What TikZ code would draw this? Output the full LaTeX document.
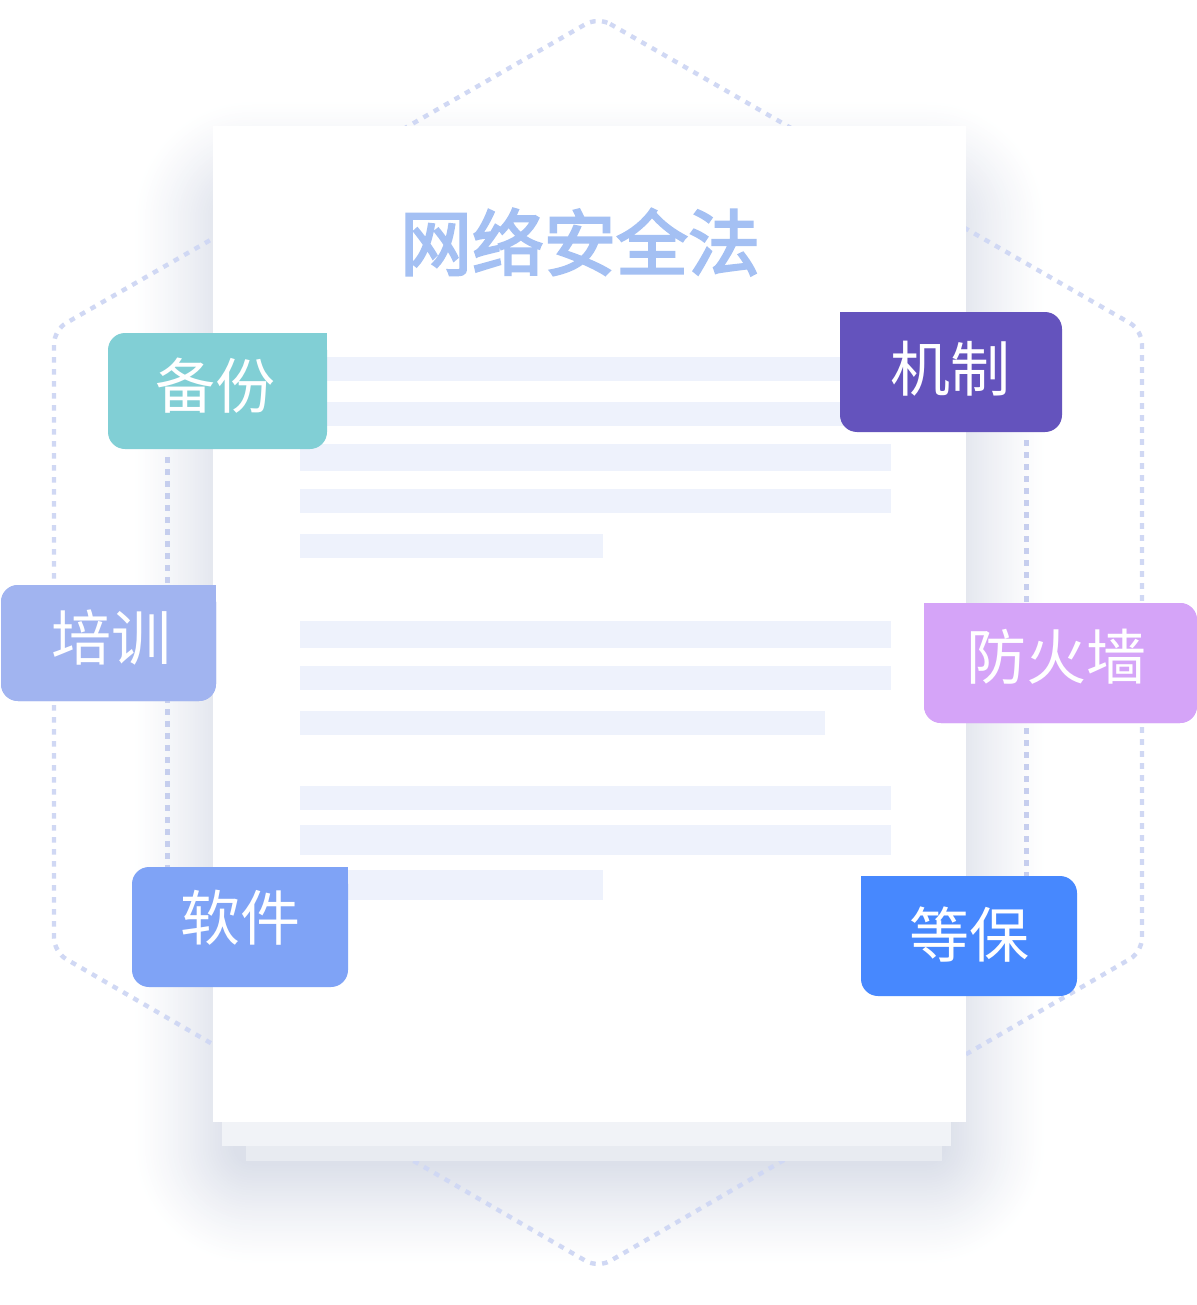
\documentclass[tikz,border=0pt]{standalone}
\usepackage{fontspec}
\newfontfamily\cjk{Noto Sans CJK SC}
\newfontfamily\cjkt{Noto Sans CJK SC}[FakeBold=3]
\usetikzlibrary{calc}
\definecolor{hexc}{HTML}{D0D8F4}
\definecolor{innerc}{HTML}{C6CEEE}
\definecolor{shadowc}{HTML}{DCE0EA}
\definecolor{rowc}{HTML}{EEF2FC}
\definecolor{titlec}{HTML}{A4C0F3}
\definecolor{layerb}{HTML}{F1F3F7}
\definecolor{layerc}{HTML}{E8EBF1}
\definecolor{cbeifen}{HTML}{81CFD5}
\definecolor{cpeixun}{HTML}{A1B4F0}
\definecolor{cruanjian}{HTML}{7FA3F6}
\definecolor{cjizhi}{HTML}{6453BD}
\definecolor{cfang}{HTML}{D5A4F8}
\definecolor{cdengbao}{HTML}{4788FE}
\begin{document}
\begin{tikzpicture}[x=0.5pt,y=-0.5pt,
  tagbox/.style={rectangle, rounded corners=8.5pt, inner sep=0pt, minimum height=59pt},
  tagtext/.style={font=\cjk\fontsize{30pt}{30pt}\selectfont, text=white, inner sep=0pt},
  hexline/.style={draw=hexc, line width=2.2pt, dash pattern=on 2.8pt off 3.2pt, rounded corners=7pt},
  innerline/.style={draw=innerc, line width=2.2pt, dash pattern=on 2.8pt off 3.2pt},
  rowbar/.style={fill=rowc}]
\useasboundingbox (0,0) rectangle (1197,1305);
\fill[white] (0,0) rectangle (1197,1305);
% soft shadow (solid graded layers, outermost first)
\foreach \i in {40,39,...,0}{
  \pgfmathsetmacro{\rr}{\i*1.25+10}
  \pgfmathsetmacro{\pp}{100*(1-\i/40)^1.2}
  \fill[shadowc!\pp!white, rounded corners=\rr pt] (233-\i*2.5, 200-\i*2.5) rectangle (946+\i*2.5, 1165+\i*2.5);
}
% outer dotted hexagon
\coordinate (hT) at (598,17);
\coordinate (hTR) at (1142,330);
\coordinate (hBR) at (1142,952);
\coordinate (hB) at (598,1268);
\coordinate (hBL) at (54,952);
\coordinate (hTL) at (54,330);
\draw[hexline] (hT) -- (hTR) -- (hBR) -- (hB) -- (hBL) -- (hTL) -- cycle;
% document stack
\fill[layerc] (246,1140) rectangle (942,1161);
\fill[layerb] (222,1115) rectangle (951,1146);
\fill[white] (213,126) rectangle (966,1122);
% text bars
\fill[rowbar] (300,357) rectangle (891,381);
\fill[rowbar] (300,402) rectangle (891,426);
\fill[rowbar] (300,444) rectangle (891,471);
\fill[rowbar] (300,489) rectangle (891,513);
\fill[rowbar] (300,534) rectangle (603,558);
\fill[rowbar] (300,621) rectangle (891,648);
\fill[rowbar] (300,666) rectangle (891,690);
\fill[rowbar] (300,711) rectangle (825,735);
\fill[rowbar] (300,786) rectangle (891,810);
\fill[rowbar] (300,825) rectangle (891,855);
\fill[rowbar] (300,870) rectangle (603,900);
% title
\node[font=\cjkt\fontsize{36pt}{36pt}\selectfont, text=titlec, inner sep=0pt] (title) at (580,242) {网络安全法};
% tag boxes
\node[tagbox, fill=cbeifen, minimum width=109.5pt, minimum height=58pt] (beifen) at (217.5,391) {};
\node[tagbox, fill=cpeixun, minimum width=107.5pt, minimum height=58pt] (peixun) at (108.5,643) {};
\node[tagbox, fill=cruanjian, minimum width=108pt, minimum height=60pt] (ruanjian) at (240,927) {};
\node[tagbox, fill=cjizhi, minimum width=111pt, minimum height=60pt] (jizhi) at (951,372) {};
\node[tagbox, fill=cfang, minimum width=136.5pt, minimum height=60pt] (fang) at (1060.5,663) {};
\node[tagbox, fill=cdengbao, minimum width=108pt, minimum height=60pt] (dengbao) at (969,936) {};
% inner dotted links
\draw[innerline] ([xshift=30pt,yshift=-4pt]beifen.south west) -- ([xshift=18pt]ruanjian.north west);
\draw[innerline] ([xshift=93.5pt,yshift=-4pt]jizhi.south west) -- ([xshift=83pt]dengbao.north west);
% redraw tags lying over the links
\node[tagbox, fill=cpeixun, minimum width=107.5pt, minimum height=58pt] (peixun2) at (108.5,643) {};
\node[tagbox, fill=cfang, minimum width=136.5pt, minimum height=60pt] (fang2) at (1060.5,663) {};
% sharp corners
\fill[cbeifen] (beifen.north east) rectangle ++(-20,20);
\fill[cpeixun] (peixun.north east) rectangle ++(-20,20);
\fill[cruanjian] (ruanjian.north east) rectangle ++(-20,20);
\fill[cjizhi] (jizhi.north west) rectangle ++(20,20);
\fill[cfang] (fang.north west) rectangle ++(20,20);
\fill[cdengbao] (dengbao.north west) rectangle ++(20,20);
% tag texts
\node[tagtext] (beifen-t) at (215,386) {备份};
\node[tagtext] (peixun-t) at (111,638) {培训};
\node[tagtext] (ruanjian-t) at (240,918) {软件};
\node[tagtext] (jizhi-t) at (950,369) {机制};
\node[tagtext] (fang-t) at (1056,657) {防火墙};
\node[tagtext] (dengbao-t) at (969,935) {等保};
\end{tikzpicture}
\end{document}
